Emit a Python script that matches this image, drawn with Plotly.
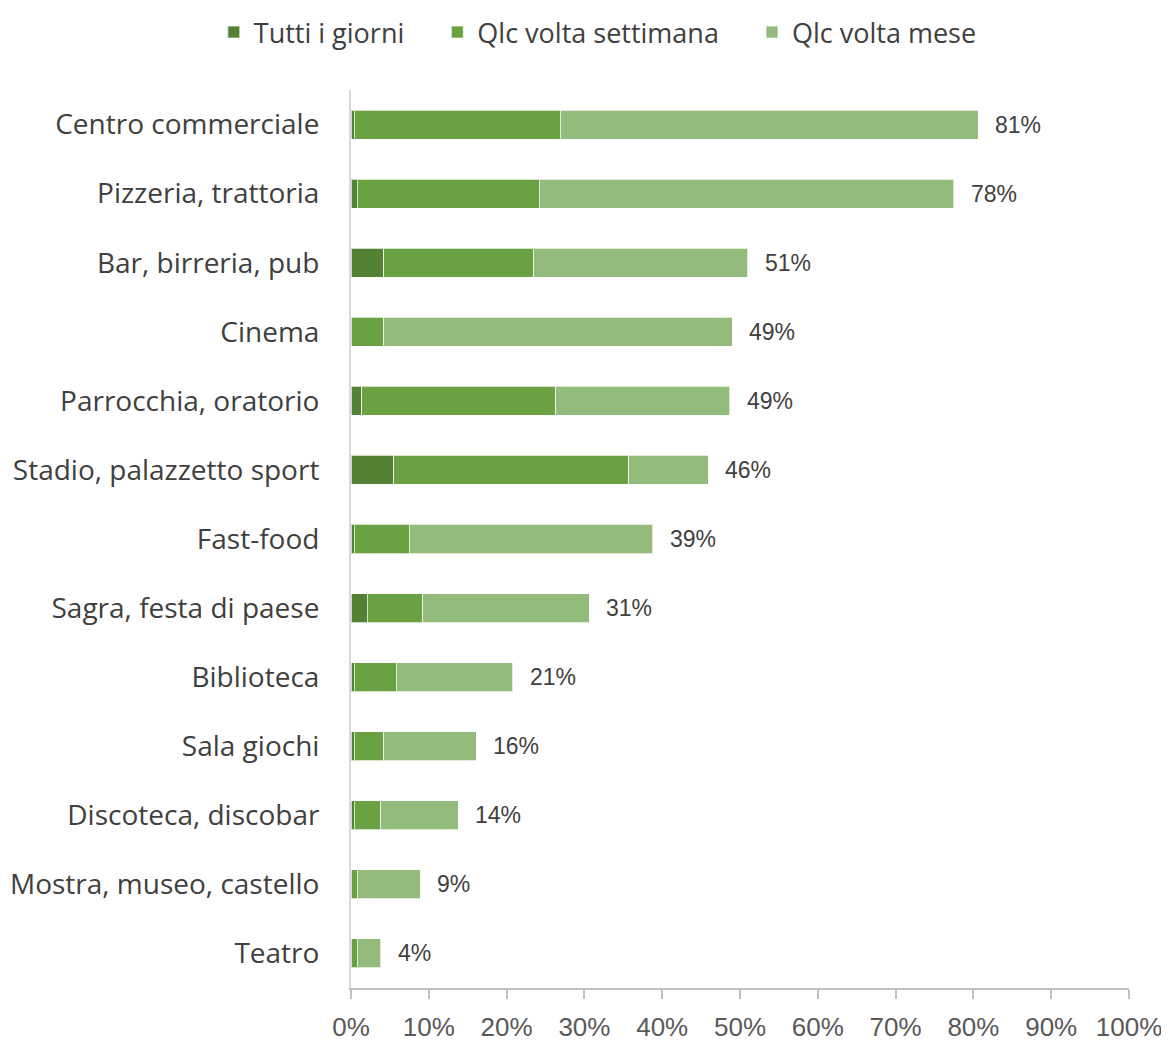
import plotly.graph_objects as go

categories = ["Centro commerciale", "Pizzeria, trattoria", "Bar, birreria, pub", "Cinema",
              "Parrocchia, oratorio", "Stadio, palazzetto sport", "Fast-food",
              "Sagra, festa di paese", "Biblioteca", "Sala giochi", "Discoteca, discobar",
              "Mostra, museo, castello", "Teatro"]
tutti_i_giorni = [0.4, 0.8, 4.2, 0.0, 1.4, 5.5, 0.4, 2.1, 0.4, 0.4, 0.4, 0.0, 0.0]
qlc_settimana = [26.5, 23.4, 19.3, 4.2, 24.9, 30.2, 7.1, 7.1, 5.4, 3.8, 3.4, 0.8, 0.8]
qlc_mese = [53.7, 53.3, 27.5, 44.8, 22.4, 10.2, 31.3, 21.4, 15.0, 11.9, 10.0, 8.1, 3.0]
total_labels = ["81%", "78%", "51%", "49%", "49%", "46%", "39%", "31%", "21%", "16%", "14%", "9%", "4%"]
tick_vals = [0, 10, 20, 30, 40, 50, 60, 70, 80, 90, 100]
tick_text = ["0%", "10%", "20%", "30%", "40%", "50%", "60%", "70%", "80%", "90%", "100%"]

pad = "\u00a0" * 4
series = [
    ("Tutti i giorni", tutti_i_giorni, "#548235", pad),
    ("Qlc volta settimana", qlc_settimana, "#6aa142", pad),
    ("Qlc volta mese", qlc_mese, "#93bb7b", ""),
]

fig = go.Figure()
for name, vals, color, p in series:
    fig.add_trace(go.Bar(
        y=categories, x=vals, name=name + p, orientation="h",
        marker=dict(color=color, line=dict(color="rgba(255,255,255,0.7)", width=1)),
        hovertemplate=name + ": %{x}<extra>%{y}</extra>",
    ))

totals = [a + b + c for a, b, c in zip(tutti_i_giorni, qlc_settimana, qlc_mese)]
for cat, tot, lab in zip(categories, totals, total_labels):
    fig.add_annotation(x=tot, y=cat, text=lab, showarrow=False, xanchor="left",
                       xshift=15, font=dict(family="Liberation Sans, Arial", size=23, color="#404040"))

fig.update_layout(
    width=1161, height=1035,
    barmode="stack", bargap=0.58,
    plot_bgcolor="white", paper_bgcolor="white",
    margin=dict(l=343, r=40, t=82, b=55, autoexpand=False),
    legend=dict(orientation="h", xref="container", yref="container", x=0.508, y=1.0,
                xanchor="center", yanchor="top",
                font=dict(family="Open Sans, Calibri", size=27, color="#404040"),
                itemwidth=30, traceorder="normal"),
    xaxis=dict(range=[0, 100], tickvals=tick_vals, ticktext=tick_text, automargin=False,
               showgrid=False, zeroline=False, showline=True, linecolor="#bfbfbf", linewidth=2,
               ticks="outside", ticklen=9, tickcolor="#bfbfbf", tickwidth=2,
               ticklabelstandoff=6,
               tickfont=dict(family="Liberation Sans, Arial", size=26, color="#595959")),
    yaxis=dict(categoryorder="array", categoryarray=categories, autorange="reversed",
               automargin=False,
               showgrid=False, zeroline=False, showline=True, linecolor="#d9d9d9", linewidth=2,
               ticks="", ticklabelstandoff=24,
               tickfont=dict(family="Open Sans, Calibri", size=28, color="#404040")),
)

fig.write_html("out.html")
